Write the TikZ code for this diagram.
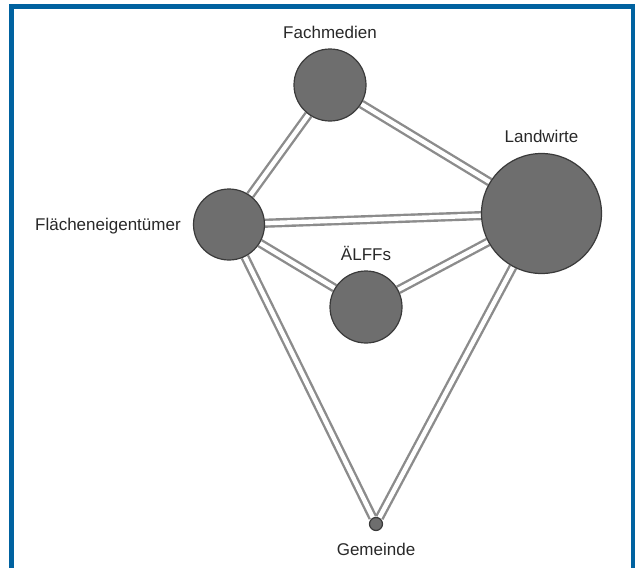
\documentclass[tikz,border=0pt]{standalone}
\usepackage{fontspec}
\setmainfont{Liberation Sans}
\usetikzlibrary{backgrounds}

\begin{document}
\begin{tikzpicture}[x=1pt,y=-1pt,
  actor/.style={shape=circle,draw=actor_line,fill=actor_fill,line width=1.2pt,inner sep=0pt},
  tie/.style={draw=tie_line,line width=2.4pt,double=white,double distance=4.4pt},
  every label/.style={text=label_text,inner sep=0pt,text depth=0pt,font=\fontsize{17}{20}\selectfont}]
\definecolor{actor_fill}{RGB}{110,110,110}
\definecolor{actor_line}{RGB}{58,58,58}
\definecolor{tie_line}{RGB}{140,140,140}
\definecolor{label_text}{RGB}{40,40,40}
\definecolor{frame_blue}{RGB}{0,98,160}
\useasboundingbox (0,0) rectangle (635,568);
\clip (0,0) rectangle (635,568);
\draw[color=frame_blue,line width=5pt] (11.5,6.5) rectangle (633.5,620);

\node[actor,minimum size=72pt,label={[label distance=10pt]above:Fachmedien}] (fachmedien) at (330,85) {};
\node[actor,minimum size=71pt,label={[label distance=12pt]left:Flächeneigentümer}] (flaechen) at (229,224.5) {};
\node[actor,minimum size=120pt,label={[label distance=10pt]above:Landwirte}] (landwirte) at (541.5,213.5) {};
\node[actor,minimum size=72pt,label={[label distance=10pt]above:ÄLFFs}] (alffs) at (366,307) {};
\node[actor,minimum size=13pt,label={[label distance=12pt]below:Gemeinde}] (gemeinde) at (376,524) {};

\begin{scope}[on background layer]
\draw[tie] (fachmedien) -- (flaechen);
\draw[tie] (fachmedien) -- (landwirte);
\draw[tie] (flaechen) -- (landwirte);
\draw[tie] (flaechen) -- (alffs);
\draw[tie] (alffs) -- (landwirte);
\draw[tie] (flaechen) -- (gemeinde);
\draw[tie] (landwirte) -- (gemeinde);
\end{scope}
\end{tikzpicture}
\end{document}
